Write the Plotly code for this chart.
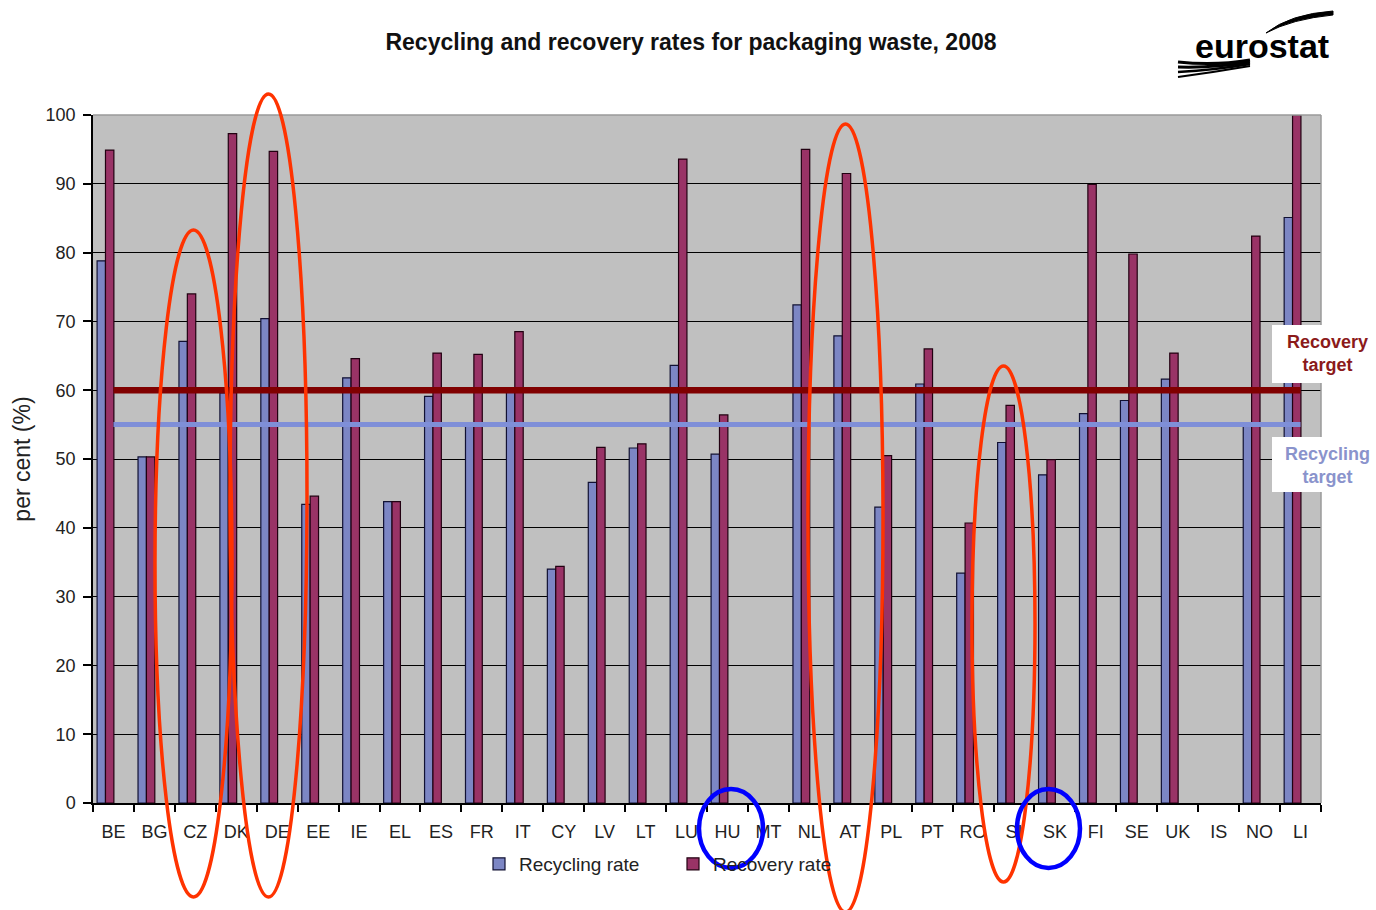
import plotly.graph_objects as go

# ---------------- data ----------------
countries = ["BE", "BG", "CZ", "DK", "DE", "EE", "IE", "EL", "ES", "FR",
             "IT", "CY", "LV", "LT", "LU", "HU", "MT", "NL", "AT", "PL",
             "PT", "RO", "SI", "SK", "FI", "SE", "UK", "IS", "NO", "LI"]
recycling_rate = [78.8, 50.3, 67.1, 59.6, 70.4, 43.4, 61.8, 43.8, 59.1, 55.2,
                  59.7, 34.0, 46.6, 51.6, 63.6, 50.7, None, 72.4, 67.9, 43.0,
                  60.9, 33.4, 52.4, 47.7, 56.6, 58.5, 61.6, None, 54.8, 85.1]
recovery_rate = [94.9, 50.3, 74.0, 97.3, 94.7, 44.6, 64.6, 43.8, 65.4, 65.2,
                 68.5, 34.4, 51.7, 52.2, 93.6, 56.4, None, 95.0, 91.5, 50.5,
                 66.0, 40.7, 57.8, 49.9, 89.9, 79.8, 65.4, None, 82.4, 100.0]
recovery_target = 60
recycling_target = 55
y_ticks = [0, 10, 20, 30, 40, 50, 60, 70, 80, 90, 100]

# ---------------- layout helpers ----------------
W, H = 1376, 910
L, R, T, B = 93, 55, 115, 107
PW, PH = W - L - R, H - T - B


def px(x):
    return (x - L) / PW


def py(y):
    return (H - B - y) / PH


FONT = "Liberation Sans, Arial, sans-serif"
REC_COL = "#7c86c4"
RCV_COL = "#993366"

fig = go.Figure()
fig.add_trace(go.Bar(
    x=countries, y=recycling_rate, name="Recycling rate",
    offset=-0.40, width=0.205,
    marker=dict(color=REC_COL, line=dict(color="#111133", width=1.2)),
))
fig.add_trace(go.Bar(
    x=countries, y=recovery_rate, name="Recovery rate",
    offset=-0.195, width=0.205,
    marker=dict(color=RCV_COL, line=dict(color="#220011", width=1.2)),
))
fig.add_trace(go.Scatter(
    x=countries, y=[recycling_target] * len(countries), mode="lines",
    line=dict(color="#7f8fd8", width=5), showlegend=False, hoverinfo="skip",
))
fig.add_trace(go.Scatter(
    x=countries, y=[recovery_target] * len(countries), mode="lines",
    line=dict(color="#800000", width=6.5), showlegend=False, hoverinfo="skip",
))

shapes = []
# gray top / right plot border
shapes.append(dict(type="line", xref="paper", yref="paper", x0=0, x1=1, y0=1, y1=1,
                   line=dict(color="#9a9a9a", width=1.5)))
shapes.append(dict(type="line", xref="paper", yref="paper", x0=1, x1=1, y0=0, y1=1,
                   line=dict(color="#9a9a9a", width=1.5)))
# white boxes for the target labels
for (y0, y1) in [(325, 383), (437, 492)]:
    shapes.append(dict(type="rect", xref="paper", yref="paper",
                       x0=px(1272), x1=px(1376), y0=py(y1), y1=py(y0),
                       fillcolor="white", line=dict(width=0)))
# hand-drawn highlight ellipses
for (x0, x1, y0, y1) in [(155, 232, 230, 897), (230, 307, 94, 897),
                         (808, 883, 124, 912), (972, 1035, 366, 882)]:
    shapes.append(dict(type="circle", xref="paper", yref="paper",
                       x0=px(x0), x1=px(x1), y0=py(y1), y1=py(y0),
                       line=dict(color="#ff3300", width=3.5)))
for (x0, x1, y0, y1) in [(699, 763, 789, 868), (1017, 1080, 789, 868)]:
    shapes.append(dict(type="circle", xref="paper", yref="paper",
                       x0=px(x0), x1=px(x1), y0=py(y1), y1=py(y0),
                       line=dict(color="#0000ff", width=4.5)))


# eurostat logo swooshes
def pth(points_cmd):
    out = []
    for tok in points_cmd:
        if isinstance(tok, str):
            out.append(tok)
        else:
            out.append(f"{px(tok[0]):.5f},{py(tok[1]):.5f}")
    return " ".join(out)


shapes.append(dict(type="path", xref="paper", yref="paper",
                   path=pth(["M", (1266, 33), "Q", (1290, 14), (1333, 11), "L", (1333, 15),
                             "Q", (1292, 19), (1266, 33), "Z"]),
                   fillcolor="black", line=dict(color="black", width=1)))
for (ys, ye, wdt) in [(62, 63, 3), (67, 65, 3), (72, 67, 2.5), (77, 69, 2)]:
    shapes.append(dict(type="path", xref="paper", yref="paper",
                       path=pth(["M", (1178, ys), "Q", (1215, ye + 3), (1250, ye - 3)]),
                       line=dict(color="black", width=wdt)))

annotations = [
    dict(text="<b>Recovery<br>target</b>", xref="paper", yref="paper",
         x=px(1328), y=py(353), xanchor="center", yanchor="middle", showarrow=False,
         font=dict(family=FONT, size=18, color="#8b1a1a")),
    dict(text="<b>Recycling<br>target</b>", xref="paper", yref="paper",
         x=px(1328), y=py(465), xanchor="center", yanchor="middle", showarrow=False,
         font=dict(family=FONT, size=18, color="#8a93cc")),
    dict(text="<b>eurostat</b>", xref="paper", yref="paper",
         x=px(1262), y=py(46), xanchor="center", yanchor="middle", showarrow=False,
         font=dict(family=FONT, size=34, color="black")),
]

fig.update_layout(
    width=W, height=H,
    margin=dict(l=L, r=R, t=T, b=B, autoexpand=False),
    paper_bgcolor="white", plot_bgcolor="#c0c0c0",
    font=dict(family=FONT, size=18, color="#222222"),
    title=dict(text="<b>Recycling and recovery rates for packaging waste, 2008</b>",
               x=px(691), xanchor="center", y=(H - 42) / H, yanchor="middle",
               xref="paper", yref="container",
               font=dict(family=FONT, size=23, color="#111111")),
    barmode="group",
    showlegend=True,
    legend=dict(orientation="h", x=px(479), xanchor="left", y=py(864), yanchor="middle",
                entrywidth=149, entrywidthmode="pixels", itemwidth=30,
                font=dict(family=FONT, size=19, color="#222222"),
                bgcolor="rgba(0,0,0,0)", traceorder="normal"),
    shapes=shapes,
    annotations=annotations,
)
fig.update_xaxes(type="category", categoryorder="array", categoryarray=countries,
                 range=[-0.5, len(countries) - 0.5], tickson="boundaries",
                 ticks="outside", ticklen=7, tickcolor="black", tickwidth=1.5,
                 showline=True, linecolor="black", linewidth=1.5, showgrid=False,
                 ticklabelstandoff=12, tickfont=dict(size=18, color="#222222"))
fig.update_yaxes(range=[0, 100], tickvals=y_ticks, ticks="outside", ticklen=8,
                 tickcolor="black", tickwidth=1.5, showline=True, linecolor="black",
                 linewidth=1.5, gridcolor="black", gridwidth=1.3, zeroline=False,
                 ticklabelstandoff=4, tickfont=dict(size=18, color="#222222"),
                 title=dict(text="per cent (%)", standoff=9,
                            font=dict(family=FONT, size=23, color="#222222")))

fig.write_html("out.html", config={"displayModeBar": False},
               post_script="document.body.style.margin='0px';document.body.style.overflow='hidden';")
